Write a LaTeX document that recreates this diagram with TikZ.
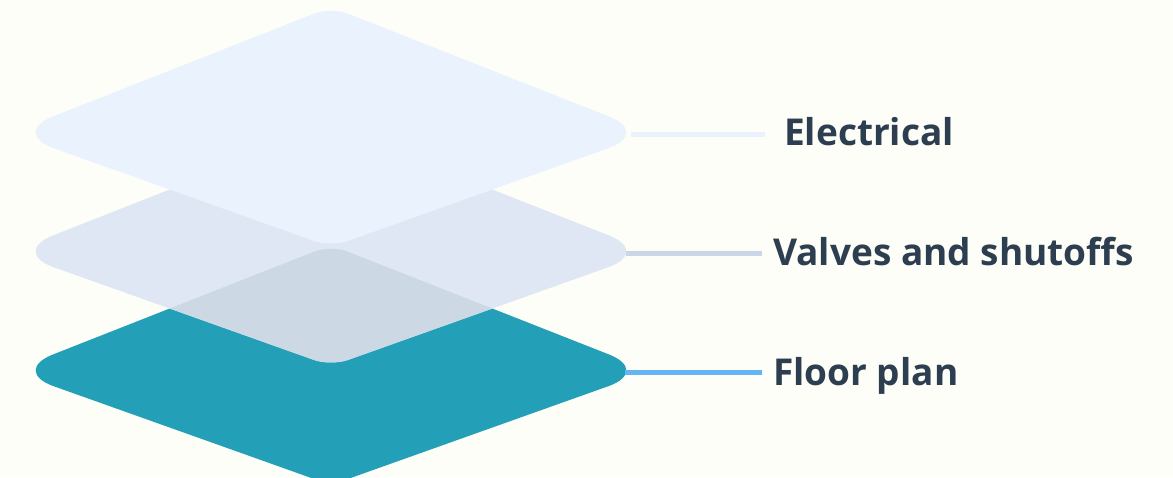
\documentclass[tikz,border=0pt]{standalone}
\usepackage{fontspec}
\setmainfont{Open Sans}
\usetikzlibrary{positioning}

\definecolor{bgcream}{HTML}{FDFEF8}
\definecolor{toplayer}{HTML}{EAF2FD}
\definecolor{midlayer}{HTML}{E0E7F4}
\definecolor{overlap}{HTML}{CDD8E5}
\definecolor{floorteal}{HTML}{249FB8}
\definecolor{labeltext}{HTML}{2D3E50}
\definecolor{midline}{HTML}{CBD7E6}
\definecolor{floorline}{HTML}{64B5F6}

% one rounded layer, centred at height #1
\newcommand{\slab}[1]{(171,#1+57) [rounded corners=45pt] -- (11,#1) -- (171,#1-63)
  [rounded corners=18pt] -- (331,#1-126) -- (491,#1-63)
  [rounded corners=45pt] -- (651,#1) -- (491,#1+57)
  [rounded corners=18pt] -- (331,#1+114) -- cycle}

\begin{document}
\begin{tikzpicture}[x=1pt,y=-1pt,
    layertext/.style={anchor=base west,inner sep=0pt,text=labeltext,
      font=\fontsize{37}{44}\selectfont\bfseries},
    link/.style={line width=5pt}
    ]
            \clip (0,0) rectangle (1173,477);
            \fill[bgcream] (0,0) rectangle (1173,477);

            \fill[floorteal] \slab{371};
            \fill[midlayer] \slab{252};
            \begin{scope}
                \clip \slab{252};
                \fill[overlap] \slab{371};
            \end{scope}
            \fill[toplayer] \slab{133};

            \coordinate (elecR) at (631,134);
            \coordinate (valvR) at (626,253);
            \coordinate (floorR) at (625,372);

            \node[layertext] (elec) at (784,145) {Electrical};
            \node[layertext] (valv) at (773,265) {Valves and shutoffs};
            \node[layertext] (floor) at (773,385) {Floor plan};

            \draw[link,toplayer,shorten >=19pt] (elecR) to (elecR -| elec.west);
            \draw[link,midline,shorten >=11pt] (valvR) to (valvR -| valv.west);
            \draw[link,floorline,shorten >=11pt] (floorR) to (floorR -| floor.west);

        \end{tikzpicture}
\end{document}
